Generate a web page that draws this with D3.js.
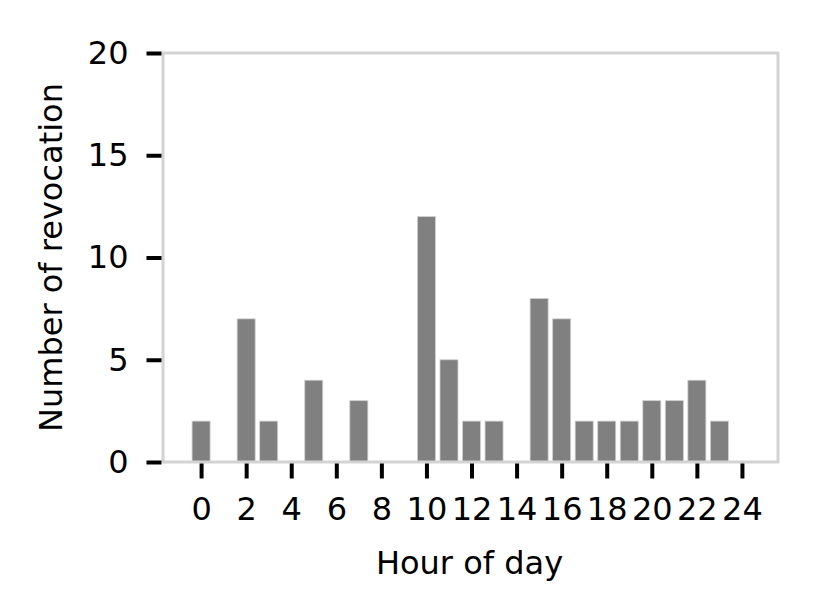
<!DOCTYPE html>
<html><head><meta charset="utf-8">
<script src="https://cdn.jsdelivr.net/npm/d3@7"></script>
<style>body{margin:0;background:#fff;} text{font-family:"DejaVu Sans",sans-serif;}</style>
</head><body>
<svg id="chart" width="832" height="616"></svg>
<script>
const hours = [0,1,2,3,4,5,6,7,8,9,10,11,12,13,14,15,16,17,18,19,20,21,22,23];
const counts = [2,0,7,2,0,4,0,3,0,0,12,5,2,2,0,8,7,2,2,2,3,3,4,2];
const xTicks = [0,2,4,6,8,10,12,14,16,18,20,22,24];
const yTicks = [0,5,10,15,20];

const svg = d3.select("#chart");
const L = 163, R = 778, T = 53, B = 462;
const FS = 32;
const x = d3.scaleLinear().domain([-1.69, 25.6]).range([L, R]);
const y = d3.scaleLinear().domain([0, 20]).range([B, T]);
const bw = x(0.8) - x(0);

svg.append("g").selectAll("rect").data(hours.map((h,i)=>({h, v:counts[i]})).filter(d=>d.v>0))
  .enter().append("rect")
  .attr("x", d => x(d.h) - bw/2)
  .attr("y", d => y(d.v))
  .attr("width", bw)
  .attr("height", d => y(0) - y(d.v))
  .attr("fill", "#808080")
  .attr("stroke", "#d0d0d0")
  .attr("stroke-width", 0.8);

// frame
svg.append("rect").attr("x", L).attr("y", T).attr("width", R-L).attr("height", B-T)
  .attr("fill", "none").attr("stroke", "#d3d3d3").attr("stroke-width", 3);

// y axis
const yAxis = d3.axisLeft(y).tickValues(yTicks).tickSize(15).tickPadding(18).tickFormat(d3.format("d"));
const gy = svg.append("g").attr("transform", `translate(${L-1.5},0)`).call(yAxis);
gy.select(".domain").remove();
gy.selectAll(".tick line").attr("stroke", "#000").attr("stroke-width", 4);
gy.selectAll(".tick text").attr("font-size", FS).attr("fill", "#000");

// x axis
const xAxis = d3.axisBottom(x).tickValues(xTicks).tickSize(15).tickPadding(19).tickFormat(d3.format("d"));
const gx = svg.append("g").attr("transform", `translate(0,${B+1.5})`).call(xAxis);
gx.select(".domain").remove();
gx.selectAll(".tick line").attr("stroke", "#000").attr("stroke-width", 4);
gx.selectAll(".tick text").attr("font-size", FS).attr("fill", "#000");

svg.append("text").attr("x", (L+R)/2 - 1).attr("y", 574).attr("text-anchor", "middle")
  .attr("font-size", FS).text("Hour of day");
svg.append("text").attr("transform", `translate(62,${(T+B)/2}) rotate(-90)`)
  .attr("text-anchor", "middle").attr("font-size", FS).text("Number of revocation");
</script>
</body></html>
